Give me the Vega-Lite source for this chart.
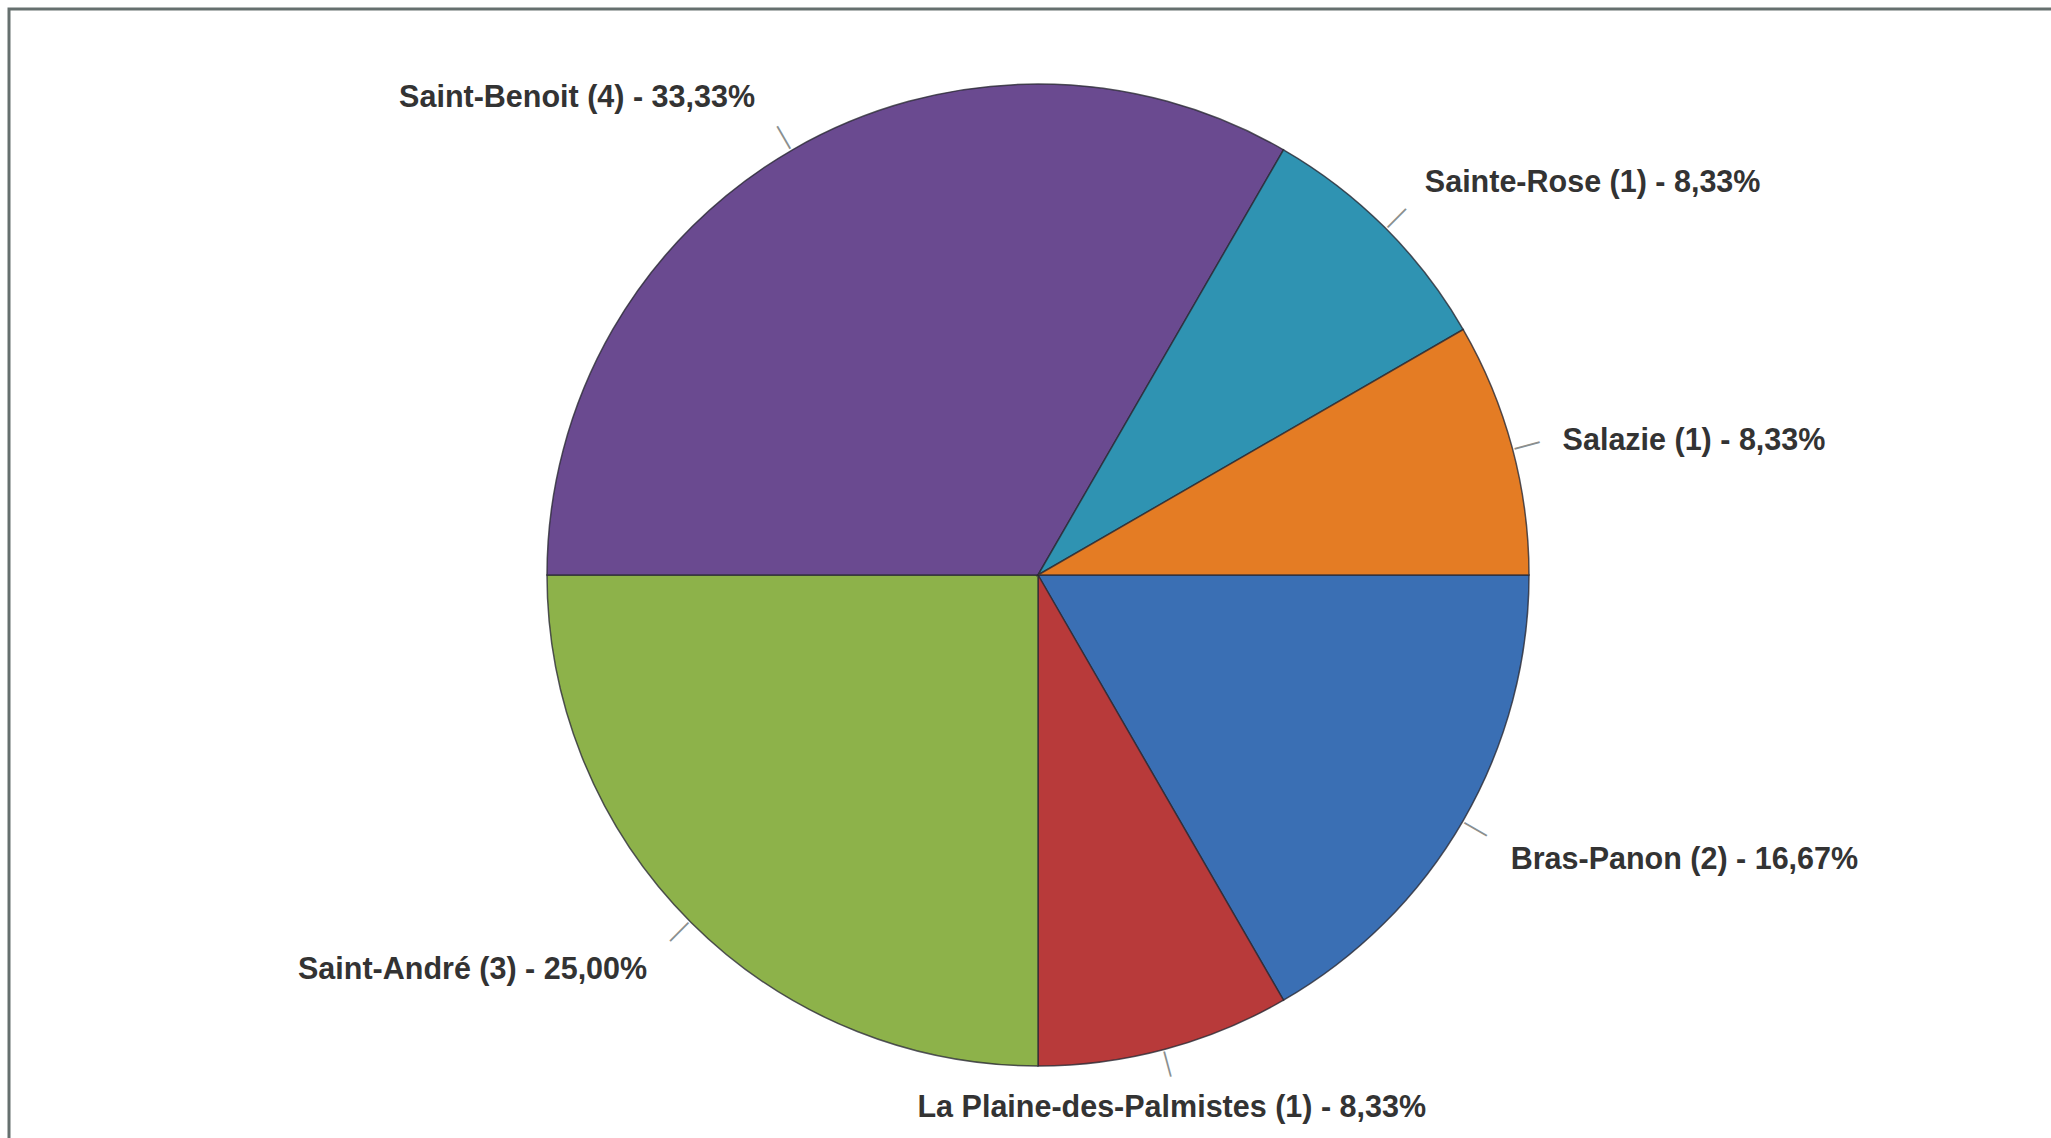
{
  "$schema": "https://vega.github.io/schema/vega-lite/v6.json",
  "autosize": "none",
  "width": 2058,
  "height": 1132,
  "padding": {"left": 9, "top": 9, "right": 0, "bottom": 0},
  "background": "white",
  "view": {"stroke": "#66706f", "strokeWidth": 3},
  "config": {"view": {"stroke": "#66706f", "strokeWidth": 3}},
  "data": {
    "values": [
      {"commune": "Bras-Panon", "count": 2, "label": "Bras-Panon (2) - 16,67%"},
      {"commune": "La Plaine-des-Palmistes", "count": 1, "label": "La Plaine-des-Palmistes (1) - 8,33%"},
      {"commune": "Saint-André", "count": 3, "label": "Saint-André (3) - 25,00%"},
      {"commune": "Saint-Benoit", "count": 4, "label": "Saint-Benoit (4) - 33,33%"},
      {"commune": "Sainte-Rose", "count": 1, "label": "Sainte-Rose (1) - 8,33%"},
      {"commune": "Salazie", "count": 1, "label": "Salazie (1) - 8,33%"}
    ]
  },
  "encoding": {
    "theta": {"field": "count", "type": "quantitative", "stack": true, "sort": "ascending", "scale": {"range": [1.5708, 7.854]}},
    "order": {"field": "commune", "type": "nominal", "sort": "ascending"}
  },
  "layer": [
    {
      "mark": {"type": "arc", "radius": 491, "stroke": "#2a2a35", "strokeWidth": 1.5, "strokeOpacity": 0.8},
      "encoding": {
        "color": {
          "field": "commune", "type": "nominal", "legend": null,
          "scale": {
            "domain": ["Bras-Panon", "La Plaine-des-Palmistes", "Saint-André", "Saint-Benoit", "Sainte-Rose", "Salazie"],
            "range": ["#3a6fb4", "#b83a3a", "#8db24a", "#6a4a90", "#2f93b2", "#e47c24"]
          }
        }
      }
    },
    {
      "mark": {"type": "text", "radius": 506, "angle": -45, "align": "center", "baseline": "middle", "font": "Liberation Sans", "fontSize": 26, "fill": "#8a8f8f"},
      "encoding": {"text": {"condition": {"test": "datum.commune == 'Sainte-Rose'", "value": "—"}, "value": ""}}
    },
    {
      "mark": {"type": "text", "radius": 506, "angle": -15, "align": "center", "baseline": "middle", "font": "Liberation Sans", "fontSize": 26, "fill": "#8a8f8f"},
      "encoding": {"text": {"condition": {"test": "datum.commune == 'Salazie'", "value": "—"}, "value": ""}}
    },
    {
      "mark": {"type": "text", "radius": 506, "angle": 30, "align": "center", "baseline": "middle", "font": "Liberation Sans", "fontSize": 26, "fill": "#8a8f8f"},
      "encoding": {"text": {"condition": {"test": "datum.commune == 'Bras-Panon'", "value": "—"}, "value": ""}}
    },
    {
      "mark": {"type": "text", "radius": 506, "angle": 75, "align": "center", "baseline": "middle", "font": "Liberation Sans", "fontSize": 26, "fill": "#8a8f8f"},
      "encoding": {"text": {"condition": {"test": "datum.commune == 'La Plaine-des-Palmistes'", "value": "—"}, "value": ""}}
    },
    {
      "mark": {"type": "text", "radius": 506, "angle": 135, "align": "center", "baseline": "middle", "font": "Liberation Sans", "fontSize": 26, "fill": "#8a8f8f"},
      "encoding": {"text": {"condition": {"test": "datum.commune == 'Saint-André'", "value": "—"}, "value": ""}}
    },
    {
      "mark": {"type": "text", "radius": 506, "angle": 60, "align": "center", "baseline": "middle", "font": "Liberation Sans", "fontSize": 26, "fill": "#8a8f8f"},
      "encoding": {"text": {"condition": {"test": "datum.commune == 'Saint-Benoit'", "value": "—"}, "value": ""}}
    },
    {
      "mark": {"type": "text", "radius": 540, "align": "left", "baseline": "middle", "dx": 5, "dy": -10, "font": "Liberation Sans", "fontWeight": "bold", "fontSize": 30.5, "fill": "#333333"},
      "encoding": {"text": {"condition": {"test": "datum.commune == 'Sainte-Rose'", "field": "label"}, "value": ""}}
    },
    {
      "mark": {"type": "text", "radius": 540, "align": "left", "baseline": "middle", "dx": 3, "dy": 6, "font": "Liberation Sans", "fontWeight": "bold", "fontSize": 30.5, "fill": "#333333"},
      "encoding": {"text": {"condition": {"test": "datum.commune == 'Salazie'", "field": "label"}, "value": ""}}
    },
    {
      "mark": {"type": "text", "radius": 540, "align": "left", "baseline": "middle", "dx": 5, "dy": 15, "font": "Liberation Sans", "fontWeight": "bold", "fontSize": 30.5, "fill": "#333333"},
      "encoding": {"text": {"condition": {"test": "datum.commune == 'Bras-Panon'", "field": "label"}, "value": ""}}
    },
    {
      "mark": {"type": "text", "radius": 540, "align": "right", "baseline": "middle", "dx": -13, "dy": -9, "font": "Liberation Sans", "fontWeight": "bold", "fontSize": 30.5, "fill": "#333333"},
      "encoding": {"text": {"condition": {"test": "datum.commune == 'Saint-Benoit'", "field": "label"}, "value": ""}}
    },
    {
      "mark": {"type": "text", "radius": 540, "align": "right", "baseline": "middle", "dx": -9, "dy": 13, "font": "Liberation Sans", "fontWeight": "bold", "fontSize": 30.5, "fill": "#333333"},
      "encoding": {"text": {"condition": {"test": "datum.commune == 'Saint-André'", "field": "label"}, "value": ""}}
    },
    {
      "mark": {"type": "text", "radius": 540, "align": "center", "baseline": "middle", "dx": -6, "dy": 11, "font": "Liberation Sans", "fontWeight": "bold", "fontSize": 30.5, "fill": "#333333"},
      "encoding": {"text": {"condition": {"test": "datum.commune == 'La Plaine-des-Palmistes'", "field": "label"}, "value": ""}}
    }
  ]
}
